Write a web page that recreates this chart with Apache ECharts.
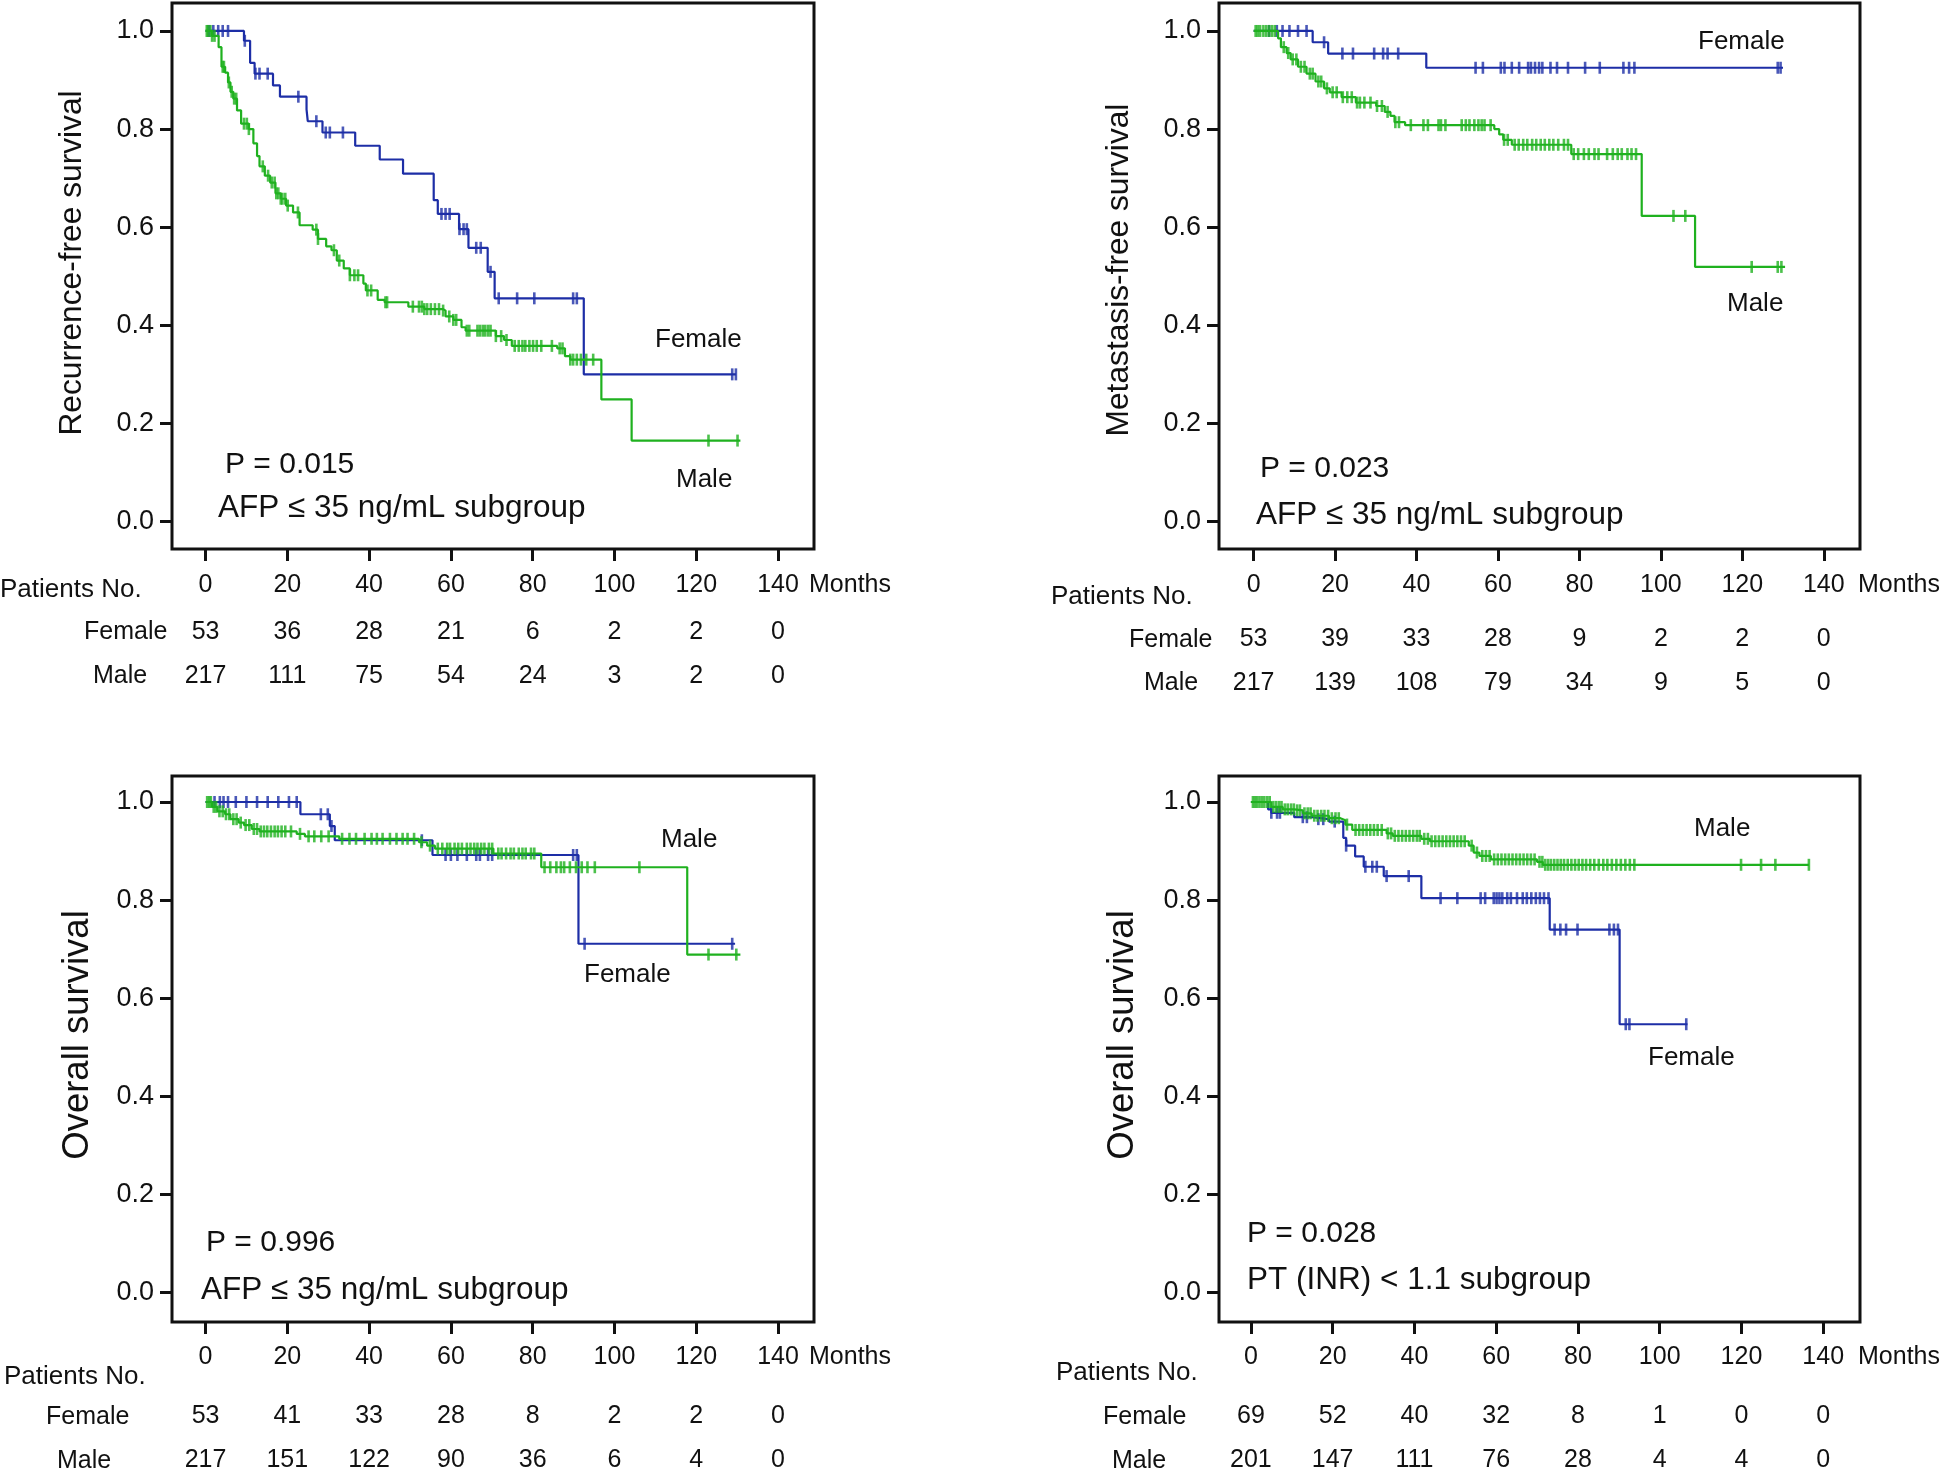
<!DOCTYPE html>
<html><head><meta charset="utf-8">
<script src="https://cdn.jsdelivr.net/npm/echarts@6/dist/echarts.min.js"></script>
<style>html,body{margin:0;padding:0;background:#fff}#c{width:1946px;height:1469px}</style>
</head><body><div id="c"></div>
<script>
// ---------- tick values ----------
const monthTicks = [0, 20, 40, 60, 80, 100, 120, 140];
const survTicks = [0, 0.2, 0.4, 0.6, 0.8, 1.0];

// ---------- Panel 1: Recurrence-free survival ----------
const rfsFemaleSteps = [[0,1.0],[9.4,0.980],[10.9,0.935],[12.0,0.913],[16.5,0.889],[18.2,0.866],[24.7,0.840],[25.0,0.816],[28.6,0.793],[36.6,0.766],[42.6,0.738],[48.3,0.709],[55.8,0.655],[56.8,0.627],[62.0,0.596],[64.3,0.558],[69.0,0.509],[70.7,0.455],[92.5,0.300],[129.7,0.300]];
const rfsFemaleCensor = [0.9,1.9,3.1,4.2,5.5,9.6,12.2,13.2,15.2,22.7,27.1,29.4,30.4,33.6,57.7,58.7,59.7,62.1,63.1,63.9,66.2,67.3,69.7,71.7,76.2,80.4,89.9,90.8,128.8,129.7];
const rfsMaleSteps = [[0,1.0],[1.6,0.990],[3.2,0.967],[3.9,0.927],[4.8,0.915],[5.5,0.895],[6.1,0.876],[6.8,0.862],[7.7,0.838],[8.7,0.811],[10.6,0.800],[11.7,0.771],[12.6,0.745],[13.2,0.724],[14.5,0.705],[15.8,0.691],[17.1,0.669],[18.4,0.658],[19.7,0.644],[21.4,0.630],[23.0,0.604],[26.2,0.595],[27.5,0.576],[29.5,0.561],[30.8,0.553],[32.1,0.532],[33.8,0.516],[35.3,0.502],[38.6,0.485],[39.2,0.471],[42.1,0.452],[43.8,0.447],[49.6,0.438],[53.5,0.433],[58.1,0.430],[58.7,0.418],[60.6,0.411],[62.6,0.396],[63.6,0.389],[71.0,0.378],[73.0,0.370],[74.9,0.358],[86.0,0.353],[87.9,0.337],[89.2,0.330],[96.8,0.249],[104.2,0.165],[130.8,0.165]];
const rfsMaleCensor = [0.3,0.6,1.2,1.6,2.2,4.2,4.5,5.7,6.4,7.0,7.5,9.4,10.1,10.6,14.0,15.3,16.2,16.9,17.3,17.8,18.4,18.8,19.5,20.1,22.6,27.1,27.5,31.4,32.7,35.3,36.4,37.3,39.6,40.5,44.0,44.4,50.7,52.2,52.9,53.5,54.2,55.1,56.1,57.1,58.1,59.6,60.6,61.3,63.9,64.5,66.5,67.1,67.8,68.4,69.1,69.7,71.0,72.3,73.6,75.6,76.6,77.5,78.2,79.2,80.1,81.0,82.1,84.7,86.6,87.3,89.2,89.9,90.8,91.8,93.1,94.8,123.0,130.1];
const rfsAtRiskFemale = [53, 36, 28, 21, 6, 2, 2, 0];
const rfsAtRiskMale = [217, 111, 75, 54, 24, 3, 2, 0];

// ---------- Panel 2: Metastasis-free survival ----------
const mfsFemaleSteps = [[0,1.0],[14.5,0.977],[18.3,0.954],[42.4,0.925],[130.0,0.925]];
const mfsFemaleCensor = [3.8,5.7,7.1,8.8,10.9,13.0,17.3,21.8,24.4,29.6,31.8,32.9,35.5,54.5,56.3,60.7,61.6,63.4,65.2,67.4,68.1,69.1,70.1,70.9,72.9,74.5,77.2,81.4,85.0,90.8,92.2,93.5,128.7,129.4];
const mfsMaleSteps = [[0,1.0],[6.0,0.985],[6.7,0.967],[8.1,0.955],[9.1,0.942],[10.9,0.927],[13.0,0.913],[15.2,0.897],[17.3,0.883],[18.7,0.875],[21.6,0.865],[25.1,0.854],[30.1,0.847],[32.2,0.835],[33.6,0.827],[34.6,0.814],[37.2,0.808],[59.1,0.800],[60.3,0.789],[61.3,0.778],[63.4,0.768],[78.0,0.749],[95.3,0.623],[108.4,0.519],[130.5,0.519]];
const mfsMaleCensor = [0.5,1.0,1.6,2.4,3.1,3.8,4.5,5.2,7.4,8.5,9.6,10.5,11.6,12.5,13.8,14.5,15.9,16.6,18.0,19.4,20.4,21.9,23.0,24.1,25.4,26.1,27.2,28.7,30.3,31.5,32.9,34.8,35.7,38.6,41.7,42.8,45.4,46.0,47.1,51.1,52.1,53.0,54.2,55.2,56.0,56.7,58.2,61.5,62.4,64.1,65.1,66.2,67.2,68.4,69.4,70.5,71.5,72.6,73.6,74.8,76.2,77.2,78.6,79.7,81.1,82.3,83.7,84.7,86.8,88.2,89.4,90.4,91.8,92.8,93.9,103.1,106.0,122.3,128.7,129.6];
const mfsAtRiskFemale = [53, 39, 33, 28, 9, 2, 2, 0];
const mfsAtRiskMale = [217, 139, 108, 79, 34, 9, 5, 0];

// ---------- Panel 3: Overall survival (AFP subgroup) ----------
const osaFemaleSteps = [[0,1.0],[23.2,0.975],[30.4,0.951],[31.6,0.922],[55.5,0.892],[91.2,0.711],[129.5,0.711]];
const osaFemaleCensor = [2.2,3.5,4.4,5.5,7.4,10.0,12.6,15.2,17.8,20.4,22.3,28.2,29.9,30.8,52.9,58.7,60.0,61.6,63.9,66.2,67.1,69.1,70.1,89.9,90.8,92.7,128.8];
const osaMaleSteps = [[0,1.0],[1.6,0.990],[2.9,0.981],[4.8,0.975],[6.1,0.965],[8.1,0.958],[9.4,0.953],[11.3,0.945],[13.2,0.940],[22.3,0.935],[24.3,0.930],[32.7,0.925],[52.2,0.918],[54.2,0.911],[56.1,0.905],[70.4,0.895],[82.1,0.867],[117.8,0.689],[130.8,0.689]];
const osaMaleCensor = [0.4,0.9,1.3,2.0,2.6,3.4,4.2,5.0,5.8,6.8,7.6,8.6,9.8,10.7,11.8,12.6,13.5,14.3,15.1,16.0,16.9,17.7,18.6,19.5,20.9,23.1,25.2,26.6,28.3,30.1,33.4,35.2,36.8,38.9,40.6,41.9,43.3,45.1,46.7,48.2,49.4,51.0,52.8,54.9,56.8,57.9,59.1,59.8,60.9,61.8,62.7,63.9,64.8,65.7,66.5,67.4,68.2,69.3,70.1,71.6,72.4,73.5,74.6,75.4,76.6,77.5,78.3,79.6,80.4,82.9,84.3,85.8,86.9,87.7,89.1,90.6,92.0,93.4,95.2,106.1,123.0,129.8];
const osaAtRiskFemale = [53, 41, 33, 28, 8, 2, 2, 0];
const osaAtRiskMale = [217, 151, 122, 90, 36, 6, 4, 0];

// ---------- Panel 4: Overall survival (PT subgroup) ----------
const ospFemaleSteps = [[0,1.0],[4.2,0.985],[5.0,0.978],[10.6,0.969],[14.9,0.965],[19.1,0.960],[22.6,0.927],[23.3,0.911],[25.5,0.889],[27.6,0.868],[32.5,0.849],[41.7,0.804],[73.1,0.740],[90.2,0.547],[106.8,0.547]];
const ospFemaleCensor = [5.0,6.4,7.1,12.7,13.7,16.5,17.7,20.5,23.3,28.0,29.7,30.8,33.2,38.6,46.4,50.5,56.2,57.3,59.4,60.1,60.8,61.5,62.7,63.6,65.1,66.5,67.5,68.6,69.7,70.7,71.7,72.8,74.3,75.7,77.1,79.9,87.7,88.8,89.8,91.7,92.6,106.5];
const ospMaleSteps = [[0,1.0],[5.0,0.990],[7.8,0.985],[10.6,0.983],[12.7,0.977],[14.9,0.972],[19.1,0.967],[21.9,0.963],[23.1,0.954],[24.8,0.943],[33.2,0.936],[34.7,0.931],[41.7,0.925],[43.8,0.920],[53.3,0.911],[54.5,0.897],[55.9,0.890],[58.7,0.883],[70.0,0.878],[71.4,0.872],[136.5,0.872]];
const ospMaleCensor = [0.5,1.0,1.5,2.1,2.7,3.3,4.0,4.6,5.5,6.2,6.9,7.5,8.3,9.0,9.8,10.5,11.3,12.0,13.1,13.9,14.6,15.5,16.3,17.2,18.0,18.9,19.8,20.7,21.5,23.5,25.6,26.5,27.4,28.3,29.2,30.1,31.0,32.0,33.5,34.3,35.2,36.1,37.0,37.9,38.8,39.7,40.6,41.3,42.4,43.3,44.2,45.1,46.0,46.9,47.8,48.7,49.6,50.5,51.4,52.3,54.0,55.3,56.6,57.5,58.4,59.5,60.4,61.3,62.2,63.1,64.0,64.9,65.8,66.7,67.6,68.5,69.4,70.6,71.3,72.0,72.7,73.4,74.2,75.0,75.8,76.6,77.5,78.4,79.3,80.2,81.1,82.0,83.0,84.0,85.1,86.2,87.2,88.3,89.4,90.5,91.6,92.7,93.8,119.9,124.8,128.3,136.5];
const ospAtRiskFemale = [69, 52, 40, 32, 8, 1, 0, 0];
const ospAtRiskMale = [201, 147, 111, 76, 28, 4, 4, 0];

// ---------- styling / layout ----------
const FONT = '"Liberation Sans", Arial, Helvetica, sans-serif';
const INK = '#111111';
const BLUE = '#1d2ea6';
const GREEN = '#1fb11f';

function survAt(steps, t) {
  let s = steps[0][1];
  for (const [x, y] of steps) { if (x <= t) s = y; else break; }
  return s;
}

const panels = [
  { grid: {left:172, top:3, width:642, height:546}, xr:[-8.2,148.8], yr:[-0.056,1.057],
    gaps:[36, 83, 127],
    fSteps: rfsFemaleSteps, fCens: rfsFemaleCensor, mSteps: rfsMaleSteps, mCens: rfsMaleCensor,
    fRisk: rfsAtRiskFemale, mRisk: rfsAtRiskMale },
  { grid: {left:1219, top:3, width:641, height:546}, xr:[-8.5,148.9], yr:[-0.056,1.057],
    gaps:[36, 90, 134],
    fSteps: mfsFemaleSteps, fCens: mfsFemaleCensor, mSteps: mfsMaleSteps, mCens: mfsMaleCensor,
    fRisk: mfsAtRiskFemale, mRisk: mfsAtRiskMale },
  { grid: {left:172, top:776, width:642, height:546}, xr:[-8.2,148.8], yr:[-0.06,1.053],
    gaps:[35, 94, 138],
    fSteps: osaFemaleSteps, fCens: osaFemaleCensor, mSteps: osaMaleSteps, mCens: osaMaleCensor,
    fRisk: osaAtRiskFemale, mRisk: osaAtRiskMale },
  { grid: {left:1219, top:776, width:641, height:546}, xr:[-7.8,149.0], yr:[-0.06,1.053],
    gaps:[35, 94, 138],
    fSteps: ospFemaleSteps, fCens: ospFemaleCensor, mSteps: ospMaleSteps, mCens: ospMaleCensor,
    fRisk: ospAtRiskFemale, mRisk: ospAtRiskMale }
];

const grids = [], xAxes = [], yAxes = [], series = [];
panels.forEach((p, i) => {
  grids.push(Object.assign({ show: true, borderColor: INK, borderWidth: 3, backgroundColor: 'rgba(0,0,0,0)',
    containLabel: false, outerBoundsMode: 'none' }, p.grid));
  const baseX = { gridIndex: i, type: 'value', min: p.xr[0], max: p.xr[1], position: 'bottom',
    splitLine: { show: false }, axisLine: { show: false, onZero: false } };
  xAxes.push(Object.assign({}, baseX, {
    axisTick: { show: true, inside: false, length: 12, lineStyle: { color: INK, width: 3 }, customValues: monthTicks },
    axisLabel: { customValues: monthTicks, margin: p.gaps[0], verticalAlign: 'middle', fontSize: 25, fontFamily: FONT, color: INK }
  }));
  [[p.fRisk, p.gaps[1]], [p.mRisk, p.gaps[2]]].forEach(([arr, gap]) => {
    xAxes.push(Object.assign({}, baseX, {
      axisTick: { show: false },
      axisLabel: { customValues: monthTicks, margin: gap, verticalAlign: 'middle', fontSize: 25, fontFamily: FONT, color: INK,
        formatter: v => String(arr[monthTicks.indexOf(Math.round(v))]) }
    }));
  });
  yAxes.push({ gridIndex: i, type: 'value', min: p.yr[0], max: p.yr[1], splitLine: { show: false },
    axisLine: { show: false, onZero: false },
    axisTick: { show: true, inside: false, length: 12, lineStyle: { color: INK, width: 3 }, customValues: survTicks },
    axisLabel: { customValues: survTicks, margin: 18, fontSize: 27, fontFamily: FONT, color: INK, formatter: v => v.toFixed(1) }
  });
  const xi = i * 3;
  const mk = (steps, cens, color, z) => [
    { type: 'line', xAxisIndex: xi, yAxisIndex: i, data: steps, step: 'end', symbol: 'none', showSymbol: false,
      lineStyle: { color, width: 2.2 }, z, silent: true },
    { type: 'scatter', xAxisIndex: xi, yAxisIndex: i, data: cens.map(t => [t, survAt(steps, t)]),
      symbol: 'rect', symbolSize: [2.6, 12], itemStyle: { color }, z: z + 1, silent: true }
  ];
  series.push(...mk(p.fSteps, p.fCens, BLUE, 3));
  series.push(...mk(p.mSteps, p.mCens, GREEN, 5));
});

function txt(text, x, y, size, opts) {
  opts = opts || {};
  return { type: 'text', x, y, rotation: opts.rot || 0, silent: true,
    style: { text, fontSize: size, fontFamily: FONT, fill: INK, align: opts.align || 'left', verticalAlign: 'middle' } };
}
const R = Math.PI / 2;
const graphics = [
  txt('Recurrence-free survival', 72, 263, 31.7, { rot: R, align: 'center' }),
  txt('Metastasis-free survival', 1119, 270, 31.7, { rot: R, align: 'center' }),
  txt('Overall survival', 78, 1035, 36.5, { rot: R, align: 'center' }),
  txt('Overall survival', 1123, 1035, 36.5, { rot: R, align: 'center' }),
  txt('P = 0.015', 225, 465, 30), txt('AFP ≤ 35 ng/mL subgroup', 218, 508, 31.5),
  txt('P = 0.023', 1260, 469, 30), txt('AFP ≤ 35 ng/mL subgroup', 1256, 515, 31.5),
  txt('P = 0.996', 206, 1243, 30), txt('AFP ≤ 35 ng/mL subgroup', 201, 1290, 31.5),
  txt('P = 0.028', 1247, 1234, 30), txt('PT (INR) < 1.1 subgroup', 1247, 1280, 31.5),
  txt('Female', 655, 340, 26), txt('Male', 676, 480, 26),
  txt('Female', 1698, 42, 26), txt('Male', 1727, 304, 26),
  txt('Male', 661, 840, 26), txt('Female', 584, 975, 26),
  txt('Male', 1694, 829, 26), txt('Female', 1648, 1058, 26),
  txt('Patients No.', 0, 590, 26), txt('Female', 84, 632, 25), txt('Male', 93, 676, 25), txt('Months', 809, 585, 25),
  txt('Patients No.', 1051, 597, 26), txt('Female', 1129, 640, 25), txt('Male', 1144, 683, 25), txt('Months', 1858, 585, 25),
  txt('Patients No.', 4, 1377, 26), txt('Female', 46, 1417, 25), txt('Male', 57, 1461, 25), txt('Months', 809, 1357, 25),
  txt('Patients No.', 1056, 1373, 26), txt('Female', 1103, 1417, 25), txt('Male', 1112, 1461, 25), txt('Months', 1858, 1357, 25)
];

const chart = echarts.init(document.getElementById('c'), null, { renderer: 'canvas' });
chart.setOption({
  animation: false,
  backgroundColor: '#ffffff',
  grid: grids, xAxis: xAxes, yAxis: yAxes, series,
  graphic: graphics
});
</script>
</body></html>
